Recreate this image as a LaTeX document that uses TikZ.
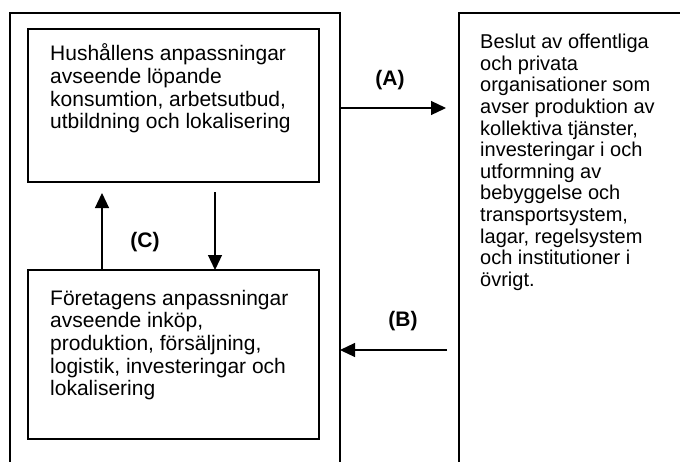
\documentclass[tikz,border=0pt]{standalone}
\usepackage{fontspec}
\setmainfont{Liberation Sans}
\usetikzlibrary{arrows.meta}
\newcommand{\toprule}{\rule{0pt}{20pt}}
\begin{document}
\begin{tikzpicture}[x=1pt,y=-1pt,
  box/.style={draw,line width=1.2pt,rectangle,inner sep=0pt,outer sep=0pt,anchor=north west},
  txt/.style={anchor=north west,inner sep=0pt,align=left,font=\fontsize{21}{22.6}\selectfont},
  rtxt/.style={anchor=north west,inner sep=0pt,align=left,font=\fontsize{20}{21.6}\selectfont},
  lbl/.style={inner sep=0pt,font=\fontsize{21}{24}\selectfont\bfseries},
  arr/.style={line width=1.2pt,-{Triangle[length=15pt,width=14pt]}}]
\useasboundingbox (0,0) rectangle (680,461);
\clip (0,0) rectangle (680,461);
% outer frames (open at the bottom / right of the picture)
\node[box,minimum width=330pt,minimum height=480pt] (outerL) at (10,13) {};
\node[box,minimum width=300pt,minimum height=480pt] (outerR) at (459,13) {};
% inner boxes
\node[box,minimum width=291pt,minimum height=153pt] (hh) at (28,29) {};
\node[box,minimum width=291pt,minimum height=169pt] (ft) at (28,270) {};
% texts
\node[txt] (hhtext) at (50,40.7) {\toprule Hushållens anpassningar\\avseende löpande\\konsumtion, arbetsutbud,\\utbildning och lokalisering};
\node[txt] (fttext) at (50,285) {\toprule Företagens anpassningar\\avseende inköp,\\produktion, försäljning,\\logistik, investeringar och\\lokalisering};
\node[rtxt] (rtext) at (480,28.5) {\toprule Beslut av offentliga\\och privata\\organisationer som\\avser produktion av\\kollektiva tjänster,\\investeringar i och\\utformning av\\bebyggelse och\\transportsystem,\\lagar, regelsystem\\och institutioner i\\övrigt.};
% arrows C
\coordinate (upTip) at (102,193);
\coordinate (dnTop) at (215,192);
\draw[arr] (ft.north -| upTip) -- (upTip);
\draw[arr] (dnTop) -- (ft.north -| dnTop);
\node[lbl] (lC) at (145,242) {(C)};
% arrow A
\coordinate (aTip) at (446,108);
\draw[arr] (outerL.east |- aTip) -- (aTip);
\node[lbl] (lA) at (390,80) {(A)};
% arrow B
\coordinate (bStart) at (447,350);
\draw[arr] (bStart) -- (outerL.east |- bStart);
\node[lbl] (lB) at (403,321) {(B)};
\end{tikzpicture}
\end{document}
